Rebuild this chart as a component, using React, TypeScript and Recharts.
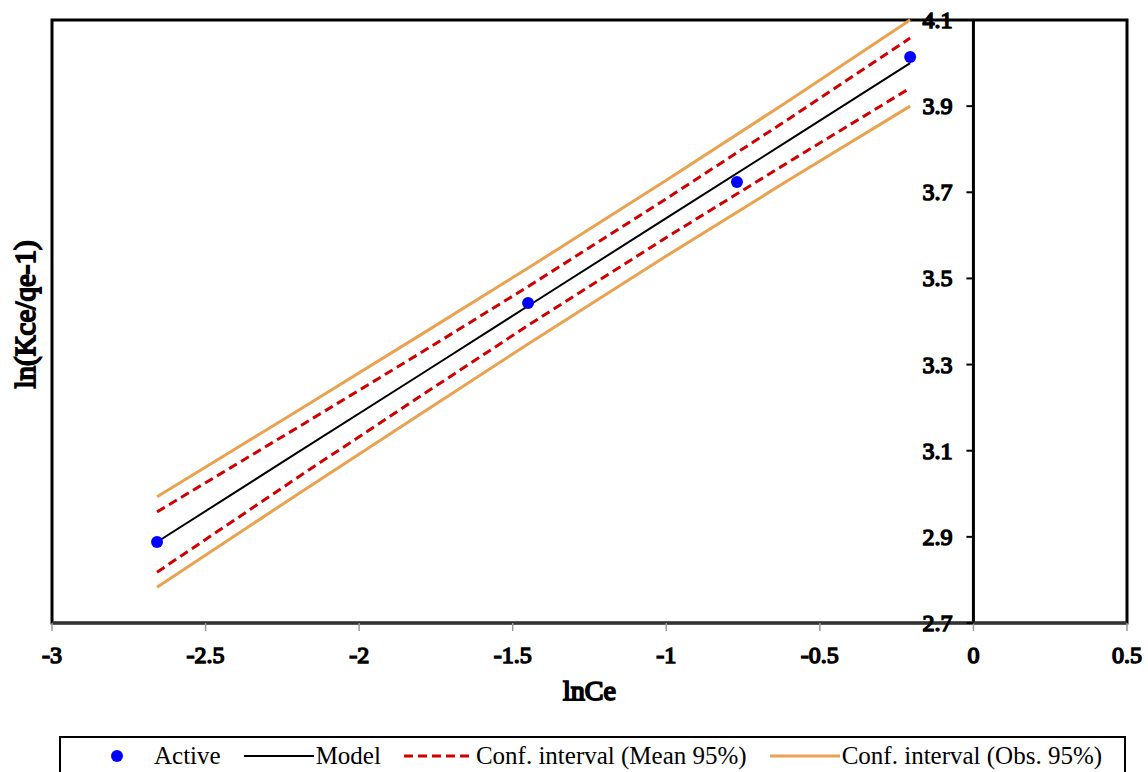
import {
  ComposedChart,
  Line,
  Scatter,
  XAxis,
  YAxis,
  Legend,
  ReferenceArea,
  ReferenceLine,
  ReferenceDot,
} from "recharts";

// observed points (lnCe, ln(Kce/qe-1))
const activeX = [-2.658, -1.45, -0.77, -0.206];
const activeY = [2.888, 3.443, 3.724, 4.014];

// model fit and confidence bands, read at these lnCe values
const bandX = [-2.658, -2.2, -1.8, -1.45, -1.0, -0.6, -0.206];
const modelY = [2.888, 3.096, 3.277, 3.436, 3.64, 3.821, 4.0];
const meanUpper = [2.958, 3.154, 3.327, 3.481, 3.685, 3.871, 4.058];
const meanLower = [2.818, 3.038, 3.227, 3.391, 3.595, 3.771, 3.942];
const obsUpper = [2.993, 3.193, 3.369, 3.524, 3.728, 3.913, 4.1];
const obsLower = [2.783, 2.999, 3.185, 3.348, 3.552, 3.729, 3.9];

const xTicks = [-3, -2.5, -2, -1.5, -1, -0.5, 0, 0.5];
const yTicks = [2.7, 2.9, 3.1, 3.3, 3.5, 3.7, 3.9, 4.1];

const legendOrder = [
  "Active",
  "Model",
  "Conf. interval (Mean 95%)",
  "Conf. interval (Obs. 95%)",
];

const FONT = '"Liberation Serif", "Times New Roman", serif';
const BLUE = "#0000ff";
const RED = "#d00000";
const ORANGE = "#e9a250";
const DASH = "9 5";

// heavy serif text (stroke thickens the regular face)
const bold = (size: number) => ({
  fontFamily: FONT,
  fontWeight: 400,
  fontSize: size,
  stroke: "#000",
  strokeWidth: size / 16,
});

const bandData = bandX.map((x, i) => ({
  x,
  model: modelY[i],
  meanUp: meanUpper[i],
  meanLo: meanLower[i],
  obsUp: obsUpper[i],
  obsLo: obsLower[i],
}));

const activeData = activeX.map((x, i) => ({ x, y: activeY[i] }));

function renderLegend(props: any) {
  const payload: any[] = props.payload ?? [];
  const items = legendOrder
    .map((n) => payload.find((p) => p.value === n))
    .filter(Boolean);
  return (
    <div
      style={{
        height: 40,
        boxSizing: "border-box",
        border: "2px solid #000",
        display: "flex",
        alignItems: "center",
        paddingLeft: 21,
        fontFamily: FONT,
        fontSize: 25,
        color: "#000",
        background: "#fff",
      }}
    >
      {items.map((it: any) => (
        <div
          key={it.value}
          style={{ display: "flex", alignItems: "center", marginRight: 23 }}
        >
          <svg width={70} height={20}>
            {it.type === "circle" ? (
              <circle cx={35} cy={10} r={6} fill={it.color} />
            ) : (
              <line
                x1={0}
                x2={70}
                y1={10}
                y2={10}
                stroke={it.color}
                strokeWidth={it.value === "Model" ? 2 : 3}
                strokeDasharray={
                  it.value === "Conf. interval (Mean 95%)" ? DASH : undefined
                }
              />
            )}
          </svg>
          <span style={{ marginLeft: 2, whiteSpace: "nowrap" }}>{it.value}</span>
        </div>
      ))}
    </div>
  );
}

function XTick(props: any) {
  const { x, y, payload } = props;
  return (
    <text x={x} y={y + 28} textAnchor="middle" fill="#000" style={bold(24)}>
      {payload.value}
    </text>
  );
}

const YTick = (v: number) => (props: any) => (
  <g>
    <line
      x1={props.cx - 7}
      x2={props.cx}
      y1={props.cy}
      y2={props.cy}
      stroke="#000"
      strokeWidth={2}
    />
    <text
      x={props.cx - 21}
      y={props.cy + 8}
      textAnchor="end"
      fill="#000"
      style={bold(24)}
    >
      {v}
    </text>
  </g>
);

export default function App() {
  return (
    <div style={{ position: "absolute", left: 0, top: 0, background: "#fff" }}>
      <ComposedChart
        width={1148}
        height={772}
        data={bandData}
        margin={{ top: 20, right: 21, bottom: 0, left: 0 }}
      >
        <XAxis
          type="number"
          dataKey="x"
          domain={[-3, 0.5]}
          ticks={xTicks}
          interval={0}
          height={109}
          axisLine={{ stroke: "#333", strokeWidth: 3 }}
          tickLine={{ stroke: "#999", strokeWidth: 1.5 }}
          tickSize={8}
          tickMargin={4}
          tick={<XTick />}
          label={({ viewBox }: any) => (
            <text
              x={viewBox.x + viewBox.width / 2}
              y={viewBox.y + 77}
              textAnchor="middle"
              fill="#000"
              style={bold(28)}
            >
              lnCe
            </text>
          )}
        />
        <YAxis
          type="number"
          domain={[2.7, 4.1]}
          ticks={yTicks}
          width={52}
          tick={false}
          axisLine={false}
          tickLine={false}
          label={({ viewBox }: any) => {
            const cx = viewBox.x + 25;
            const cy = viewBox.y + viewBox.height / 2 - 7;
            return (
              <text
                x={cx}
                y={cy}
                transform={`rotate(-90 ${cx} ${cy})`}
                textAnchor="middle"
                dominantBaseline="central"
                fill="#000"
                style={bold(29)}
              >
                ln(Kce/qe-1)
              </text>
            );
          }}
        />
        <ReferenceArea
          x1={-3}
          x2={0.5}
          y1={2.7}
          y2={4.1}
          fill="none"
          stroke="#000"
          strokeWidth={3}
          ifOverflow="visible"
        />
        <ReferenceLine x={0} stroke="#000" strokeWidth={3} />
        <Line
          dataKey="obsUp"
          name="Conf. interval (Obs. 95%)"
          stroke={ORANGE}
          strokeWidth={3}
          dot={false}
          legendType="line"
          isAnimationActive={false}
        />
        <Line
          dataKey="obsLo"
          name="obsLo"
          stroke={ORANGE}
          strokeWidth={3}
          dot={false}
          legendType="none"
          isAnimationActive={false}
        />
        <Line
          dataKey="meanUp"
          name="Conf. interval (Mean 95%)"
          stroke={RED}
          strokeWidth={3}
          strokeDasharray={DASH}
          dot={false}
          legendType="line"
          isAnimationActive={false}
        />
        <Line
          dataKey="meanLo"
          name="meanLo"
          stroke={RED}
          strokeWidth={3}
          strokeDasharray={DASH}
          dot={false}
          legendType="none"
          isAnimationActive={false}
        />
        <Line
          dataKey="model"
          name="Model"
          stroke="#000"
          strokeWidth={2}
          dot={false}
          legendType="line"
          isAnimationActive={false}
        />
        <Scatter
          data={activeData}
          dataKey="y"
          name="Active"
          fill={BLUE}
          shape={(p: any) => <circle cx={p.cx} cy={p.cy} r={6} fill={BLUE} />}
          legendType="circle"
          isAnimationActive={false}
        />
        {yTicks.map((v) => (
          <ReferenceDot
            key={v}
            x={0}
            y={v}
            r={0}
            ifOverflow="visible"
            shape={YTick(v)}
          />
        ))}
        <Legend
          verticalAlign="bottom"
          content={renderLegend}
          wrapperStyle={{ top: 736, left: 59, width: 1067, bottom: "auto" }}
        />
      </ComposedChart>
    </div>
  );
}
